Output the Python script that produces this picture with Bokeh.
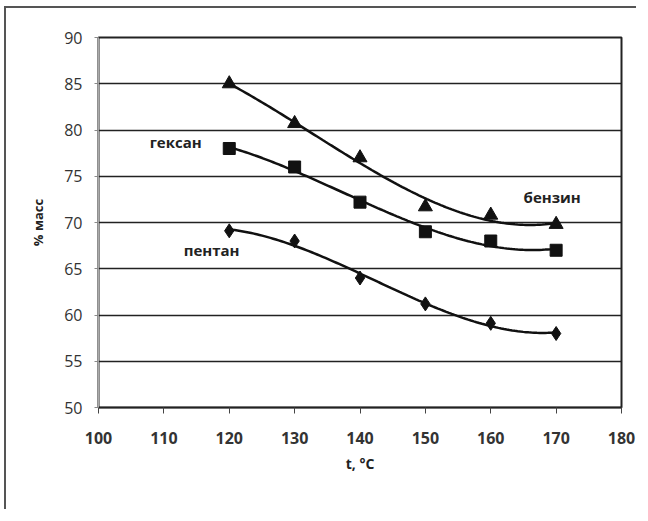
import numpy as np
from bokeh.plotting import figure
from bokeh.models import FixedTicker, Range1d
from bokeh.core.properties import value
from bokeh.embed import file_html
from bokeh.resources import INLINE

# ---- data ----
temps = [120, 130, 140, 150, 160, 170]
benzin = [85, 80.7, 77, 71.7, 70.8, 69.8]
geksan = [78, 76, 72.2, 69, 68, 67]
pentan = [69.1, 68, 64, 61.2, 59.1, 58]
x_ticks = [100, 110, 120, 130, 140, 150, 160, 170, 180]
y_ticks = [50, 55, 60, 65, 70, 75, 80, 85, 90]
labels = ["гексан", "пентан", "бензин"]
label_x = [111.8, 117.3, 169.4]
label_y = [78.7, 67.0, 72.8]


def trend(xs, ys, n=120):
    """Cubic trend line through the series (as drawn in the original)."""
    c = np.polyfit(xs, ys, 3)
    tx = np.linspace(min(xs), max(xs), n)
    return tx, np.polyval(c, tx)


p = figure(width=632, height=503, output_backend="svg", toolbar_location=None,
           x_range=Range1d(100, 180), y_range=Range1d(50, 90),
           min_border_left=92, min_border_right=17, min_border_top=29,
           min_border_bottom=104)
p.styles = {"margin-left": "4px", "margin-top": "6px",
            "border-left": "2px solid #555", "border-top": "2px solid #555"}

p.background_fill_color = "white"
p.border_fill_color = "white"
p.outline_line_color = "#222"
p.outline_line_width = 2

p.xgrid.grid_line_color = None
p.ygrid.grid_line_color = "#222"
p.ygrid.grid_line_width = 1.5
p.ygrid.ticker = FixedTicker(ticks=y_ticks)

p.xaxis.ticker = FixedTicker(ticks=x_ticks)
p.yaxis.ticker = FixedTicker(ticks=y_ticks)
p.xaxis.axis_line_color = "#222"
p.xaxis.axis_line_width = 1.5
p.xaxis.major_tick_line_color = "#444"
p.xaxis.major_tick_out = 6
p.xaxis.major_tick_in = 0
p.xaxis.minor_tick_line_color = None
p.yaxis.axis_line_color = "#aaa"
p.yaxis.major_tick_out = 4
p.yaxis.major_tick_in = 0
p.yaxis.major_tick_line_color = "#888"
p.yaxis.minor_tick_line_color = None

for ax in (p.xaxis, p.yaxis):
    ax.major_label_text_font = "Open Sans"
    ax.major_label_text_font_size = "16px"
    ax.major_label_text_color = "#333"
    ax.axis_label_text_font = "Open Sans"
    ax.axis_label_text_font_style = "bold"
    ax.axis_label_text_color = "#222"
p.xaxis.major_label_text_font_style = "bold"
p.xaxis.major_label_standoff = 18
p.yaxis.major_label_standoff = 12

p.xaxis.axis_label = "t, °C"
p.xaxis.axis_label_text_font_size = "14px"
p.xaxis.axis_label_standoff = 7
p.yaxis.axis_label = "% масс"
p.yaxis.axis_label_text_font_size = "13px"
p.yaxis.axis_label_standoff = 14

for ys in (benzin, geksan, pentan):
    sx, sy = trend(temps, ys)
    p.line(sx, sy, line_color="#111", line_width=2.5)

p.scatter(temps, benzin, marker="triangle", size=14, color="#111")
p.scatter(temps, geksan, marker="square", size=12, color="#111")
p.scatter(temps, pentan, marker="diamond", size=14, color="#111")

p.text(x=label_x, y=label_y, text=labels, text_align="center",
       text_baseline="middle", text_font=value("Open Sans"),
       text_font_style="bold", text_font_size="15px", text_color="#222")

open("out.html", "w").write(file_html(p, INLINE))
